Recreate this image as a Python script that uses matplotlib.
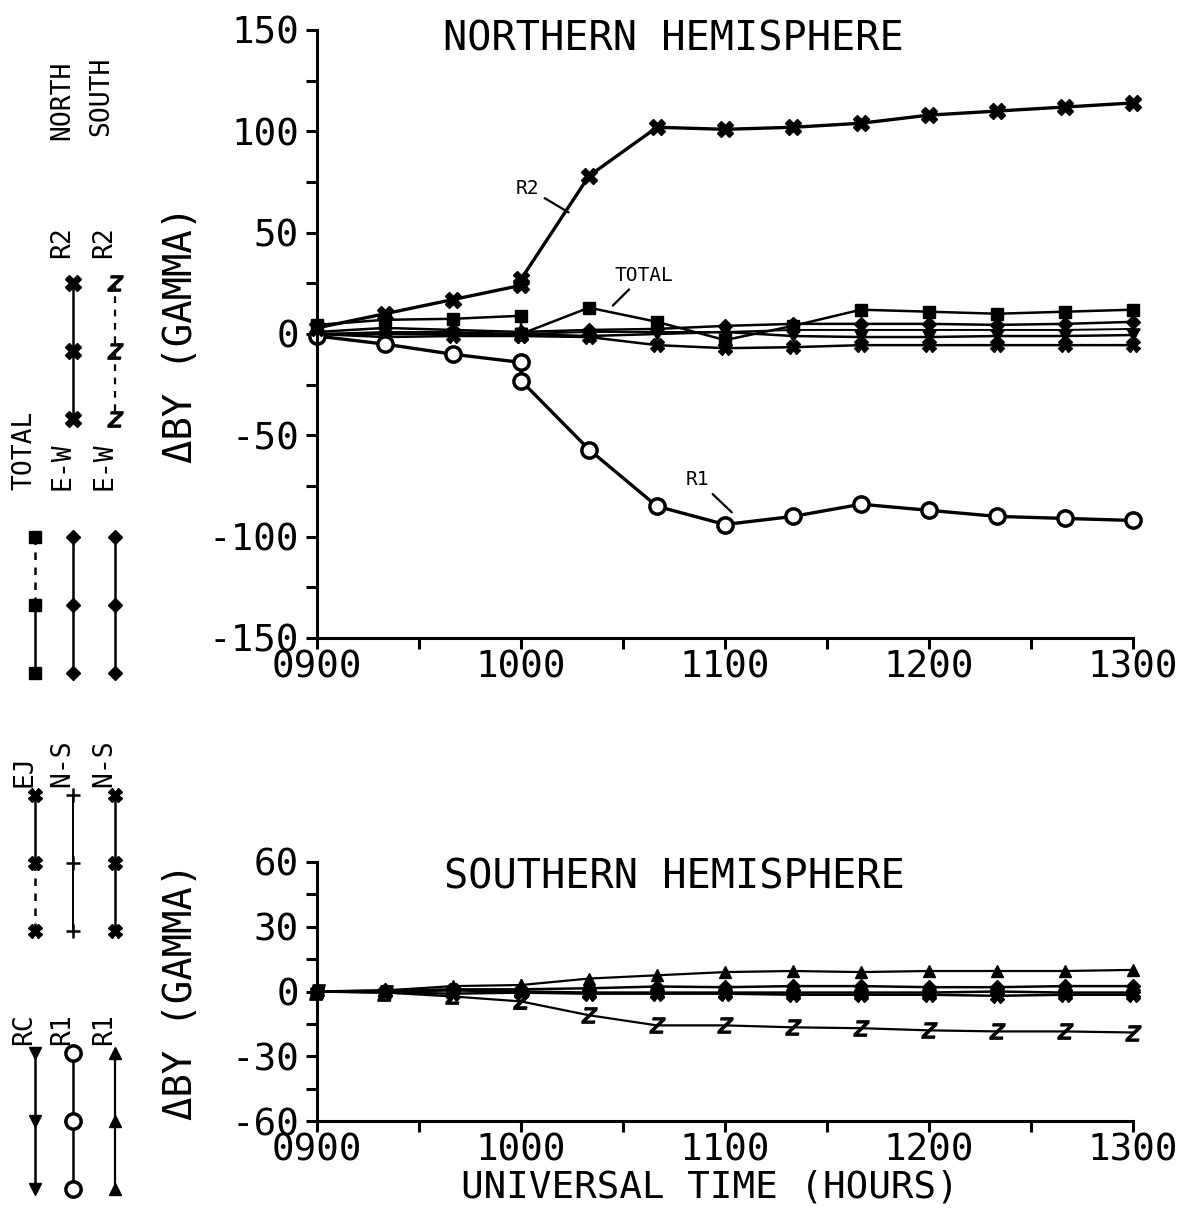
import matplotlib.pyplot as plt
from matplotlib.ticker import MultipleLocator

plt.rcParams['font.family'] = ['DejaVu Sans Mono', 'DejaVu Sans']
plt.rcParams['axes.unicode_minus'] = False

# minutes after 0900; the 1000 sample appears twice (two model runs joined)
times = [0, 20, 40, 60, 60, 80, 100, 120, 140, 160, 180, 200, 220, 240]
hour_ticks = [0, 60, 120, 180, 240]
hour_labels = ['0900', '1000', '1100', '1200', '1300']

# northern hemisphere, delta By (gamma)
r2_north = [3, 10, 17, 24, 27, 78, 102, 101, 102, 104, 108, 110, 112, 114]
r1_north = [-1, -5, -10, -14, -23, -57, -85, -94, -90, -84, -87, -90, -91, -92]
total = [4.5, 7, 7.5, 9, 0, 13, 6, -3, 4, 12, 11, 10, 11, 12]
ej = [0, -1.5, -1, -1, -1, -1.5, -5.5, -7, -6.5, -5.5, -5.5, -5.5, -5.5, -5.5]
ew_north = [1, 3, 2, 1, 1, 2, 2.5, 4, 5, 5, 5, 4.5, 5, 6]
ns_north = [0, 1, 1, 0, 0, 1, 1, 1, 2, 2, 2, 2, 2, 2.5]
rc = [0, 0, 0, 0, 0, -1, 0, 1, -1, -1.5, -1.5, -1, -1, -0.5]

# southern hemisphere
r2_south = [0, -0.5, -2.3, -4.6, -4.6, -11, -15.7, -15.7, -16.6, -17, -18, -18.5, -18.5, -19]
r1_south = [0, 0.5, 2.5, 3, 3, 6, 7.5, 9, 9.5, 9, 9.5, 9.5, 9.5, 10]
ew_south = [0, 0.5, 1, 1, 1, 1.5, 2.3, 2, 2.5, 2.5, 2, 2, 2.5, 2.5]
ns_south = [0, -0.5, -1, -0.5, -0.5, -1, -1, -1, -1.5, -1.5, -1.5, -2, -1.5, -1.5]
ej_south = [0, 0, 0.5, 0, 0, -0.5, -0.5, -0.5, -0.5, -0.5, -0.5, 0, -0.5, -0.5]

K = 'black'
sty = {
    'r2n': dict(marker='X', ms=12, lw=2.4, mfc=K, mec=K),
    'r1n': dict(marker='o', ms=11, lw=2.4, mfc='white', mec=K, mew=2.5),
    'tot': dict(marker='s', ms=9, lw=1.8, mfc=K, mec=K),
    'ej': dict(marker='X', ms=10, lw=1.8, mfc=K, mec=K),
    'ewn': dict(marker='D', ms=7, lw=1.8, mfc=K, mec=K),
    'nsn': dict(marker='+', ms=10, lw=1.4, mew=1.8, mec=K),
    'rc': dict(marker='v', ms=8, lw=1.8, mfc=K, mec=K),
    'r2s': dict(marker='$z$', ms=11, lw=1.6, mfc=K, mec=K),
    'r1s': dict(marker='^', ms=9, lw=1.6, mfc=K, mec=K),
    'ews': dict(marker='D', ms=7, lw=1.8, mfc=K, mec=K),
    'nss': dict(marker='X', ms=10, lw=1.8, mfc=K, mec=K),
}

W, H = 1187, 1212
fig = plt.figure(figsize=(W / 100, H / 100), dpi=100)


def px_axes(l, t, r, b):
    return fig.add_axes([l / W, 1 - b / H, (r - l) / W, (b - t) / H])


# legend drawn in figure pixels (rotated, as in the original)
lg = px_axes(0, 0, W, H)
lg.set_xlim(0, W)
lg.set_ylim(H, 0)
lg.axis('off')

ax1 = px_axes(317, 30, 1133, 638)
ax2 = px_axes(317, 862, 1133, 1121)


def style(ax, lim, major, minor):
    ax.set_xlim(0, 240)
    ax.set_ylim(-lim, lim)
    for s in ['top', 'right']:
        ax.spines[s].set_visible(False)
    for s in ['left', 'bottom']:
        ax.spines[s].set_linewidth(2.2)
    ax.set_xticks(hour_ticks, hour_labels)
    ax.xaxis.set_minor_locator(MultipleLocator(30))
    ax.yaxis.set_major_locator(MultipleLocator(major))
    ax.yaxis.set_minor_locator(MultipleLocator(minor))
    ax.tick_params(which='both', direction='out', length=8, width=2.2)
    ax.tick_params(axis='x', which='major', labelsize=27, pad=0)
    ax.tick_params(axis='y', which='major', labelsize=27, pad=5)
    ax.set_ylabel('\u0394BY (GAMMA)', fontsize=28)
    ax.yaxis.set_label_coords(-0.143, 0.5)
    ax.patch.set_alpha(0)


style(ax1, 150, 50, 25)
style(ax2, 60, 30, 15)

for ys, k in [(ns_north, 'nsn'), (rc, 'rc'), (ew_north, 'ewn'), (ej, 'ej'),
              (total, 'tot'), (r1_north, 'r1n'), (r2_north, 'r2n')]:
    ax1.plot(times, ys, color=K, clip_on=False, **sty[k])

for ys, k in [(ej_south, 'ej'), (ns_south, 'nss'), (ew_south, 'ews'),
              (r1_south, 'r1s'), (r2_south, 'r2s')]:
    ax2.plot(times, ys, color=K, clip_on=False, **sty[k])

ax1.text(0.437, 0.985, 'NORTHERN HEMISPHERE', transform=ax1.transAxes,
         ha='center', va='center', fontsize=29)
ax2.text(0.438, 0.94, 'SOUTHERN HEMISPHERE', transform=ax2.transAxes,
         ha='center', va='center', fontsize=29)
ax2.text(0.481, -0.255, 'UNIVERSAL TIME (HOURS)', transform=ax2.transAxes,
         ha='center', va='center', fontsize=27)

lead = dict(arrowstyle='-', lw=1.6, color=K, shrinkA=2, shrinkB=0)
ax1.annotate('R2', xy=(74, 60), xytext=(62, 72), fontsize=14,
             ha='center', va='center', arrowprops=lead)
ax1.annotate('TOTAL', xy=(87, 14), xytext=(96, 29), fontsize=14,
             ha='center', va='center', arrowprops=lead)
ax1.annotate('R1', xy=(122, -88), xytext=(112, -72), fontsize=14,
             ha='center', va='center', arrowprops=lead)

# legend layout: (label, column, row, style key, dashed segment)
cols = [35, 73, 115]
row_top = [283, 537, 795, 1053]
label_bottom = [258, 490, 787, 1045]
entries = [
    ('R2', 1, 0, 'r2n', None), ('R2', 2, 0, 'r2s', 'all'),
    ('TOTAL', 0, 1, 'tot', 'top'), ('E-W', 1, 1, 'ewn', None), ('E-W', 2, 1, 'ews', None),
    ('EJ', 0, 2, 'ej', 'bottom'), ('N-S', 1, 2, 'nsn', None), ('N-S', 2, 2, 'nss', None),
    ('RC', 0, 3, 'rc', None), ('R1', 1, 3, 'r1n', None), ('R1', 2, 3, 'r1s', None),
]
step = 68
for lab, c, r, k, dash in entries:
    x = cols[c]
    y0 = row_top[r]
    s = dict(sty[k])
    lw = min(s.pop('lw'), 1.8)
    for i in range(2):
        seg_dash = dash == 'all' or (dash == 'top' and i == 0) or (dash == 'bottom' and i == 1)
        lg.plot([x, x], [y0 + i * step, y0 + (i + 1) * step], color=K, lw=lw,
                ls=(0, (3, 3)) if seg_dash else '-')
    lg.plot([x] * 3, [y0, y0 + step, y0 + 2 * step], ls='none', **s)
    lg.text(x - 11, label_bottom[r], lab, rotation=90, ha='center', va='bottom', fontsize=19)

lg.text(cols[1] - 11, 140, 'NORTH', rotation=90, ha='center', va='bottom', fontsize=19)
lg.text(cols[2] - 14, 136, 'SOUTH', rotation=90, ha='center', va='bottom', fontsize=19)

fig.savefig('out.png', dpi=100)
